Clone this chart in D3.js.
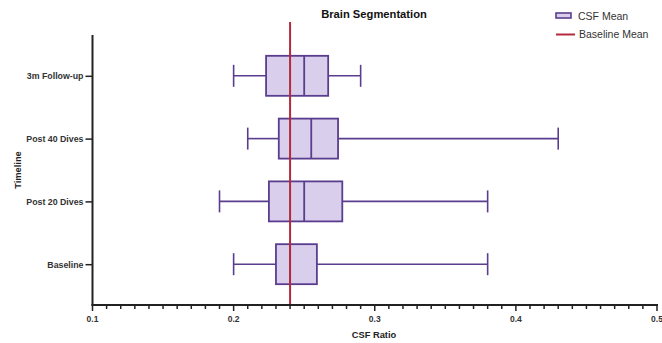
<!DOCTYPE html>
<html>
<head>
<meta charset="utf-8">
<script src="https://cdn.jsdelivr.net/npm/d3@7"></script>
<style>
  body { margin: 0; background: #fff; }
  text { font-family: "Liberation Sans", Arial, sans-serif; }
</style>
</head>
<body>
<svg id="chart"></svg>
<script>
// Chart size
const width = 662;
const height = 343;

// Data: one box per timepoint (min, q1, median, q3, max)
const categories = ["3m Follow-up", "Post 40 Dives", "Post 20 Dives", "Baseline"];
const mins    = [0.200, 0.210, 0.190, 0.200];
const q1s     = [0.223, 0.232, 0.225, 0.230];
const medians = [0.250, 0.255, 0.250, 0.240];
const q3s     = [0.267, 0.274, 0.277, 0.259];
const maxs    = [0.290, 0.430, 0.380, 0.380];
const baselineMean = 0.24;
const xTicks = [0.1, 0.2, 0.3, 0.4, 0.5];

const BOX_FILL = '#d9cfec';
const BOX_STROKE = '#5a3d8e';
const MEAN_COLOR = '#b42a3c';
const AXIS_COLOR = '#222';

const rows = categories.map((c, i) => ({
    name: c, min: mins[i], q1: q1s[i], med: medians[i], q3: q3s[i], max: maxs[i]
}));

const svg = d3.select('#chart')
    .attr('width', width)
    .attr('height', height);

const x = d3.scaleLinear().domain([0.1, 0.5]).range([92.5, 657]);
const y = d3.scalePoint().domain(categories).range([35, 305]).padding(0.65);

const boxH = 40;
const capH = 22;

// Boxes
const g = svg.append('g');
const box = g.selectAll('g.box')
    .data(rows)
    .join('g')
    .attr('class', 'box')
    .attr('transform', d => `translate(0,${y(d.name)})`);

box.append('line')
    .attr('x1', d => x(d.min)).attr('x2', d => x(d.q1))
    .attr('stroke', BOX_STROKE).attr('stroke-width', 1.6);
box.append('line')
    .attr('x1', d => x(d.q3)).attr('x2', d => x(d.max))
    .attr('stroke', BOX_STROKE).attr('stroke-width', 1.6);
box.append('line')
    .attr('x1', d => x(d.min)).attr('x2', d => x(d.min))
    .attr('y1', -capH / 2).attr('y2', capH / 2)
    .attr('stroke', BOX_STROKE).attr('stroke-width', 1.6);
box.append('line')
    .attr('x1', d => x(d.max)).attr('x2', d => x(d.max))
    .attr('y1', -capH / 2).attr('y2', capH / 2)
    .attr('stroke', BOX_STROKE).attr('stroke-width', 1.6);
box.append('rect')
    .attr('x', d => x(d.q1))
    .attr('width', d => x(d.q3) - x(d.q1))
    .attr('y', -boxH / 2).attr('height', boxH)
    .attr('fill', BOX_FILL)
    .attr('stroke', BOX_STROKE).attr('stroke-width', 1.8);
box.append('line')
    .attr('x1', d => x(d.med)).attr('x2', d => x(d.med))
    .attr('y1', -boxH / 2).attr('y2', boxH / 2)
    .attr('stroke', BOX_STROKE).attr('stroke-width', 1.8);

// Baseline mean line
svg.append('line')
    .attr('x1', x(baselineMean)).attr('x2', x(baselineMean))
    .attr('y1', 22).attr('y2', 305)
    .attr('stroke', MEAN_COLOR).attr('stroke-width', 2);

// X axis with minor ticks
const xAxisG = svg.append('g').attr('transform', 'translate(0,305)');
xAxisG.append('line')
    .attr('x1', x(0.1) - 1).attr('x2', x(0.5) + 1)
    .attr('stroke', AXIS_COLOR).attr('stroke-width', 2);
const minor = d3.range(0, 41).map(i => 0.1 + i * 0.01);
xAxisG.selectAll('line.minor')
    .data(minor)
    .join('line')
    .attr('class', 'minor')
    .attr('x1', d => x(d)).attr('x2', d => x(d))
    .attr('y1', 0).attr('y2', d => xTicks.some(t => Math.abs(t - d) < 1e-6) ? 6 : 4)
    .attr('stroke', AXIS_COLOR).attr('stroke-width', 1.5);
xAxisG.selectAll('text')
    .data(xTicks)
    .join('text')
    .attr('x', d => x(d)).attr('y', 17)
    .attr('text-anchor', 'middle')
    .attr('font-size', 8.5).attr('font-weight', 'bold').attr('fill', '#333')
    .text(d3.format('.1f'));

// Y axis
const yAxis = d3.axisLeft(y).tickSize(7).tickSizeOuter(0);
const yAxisG = svg.append('g').attr('transform', 'translate(92.5,0)').call(yAxis);
yAxisG.select('.domain').remove();
yAxisG.append('line')
    .attr('y1', 35).attr('y2', 306)
    .attr('stroke', AXIS_COLOR).attr('stroke-width', 2);
yAxisG.selectAll('.tick line').attr('stroke', AXIS_COLOR).attr('stroke-width', 1.5);
yAxisG.selectAll('.tick text')
    .attr('font-size', 8.8).attr('font-weight', 'bold').attr('fill', '#333')
    .attr('font-family', '"Liberation Sans", Arial, sans-serif')
    .attr('x', -9);

// Titles
svg.append('text')
    .attr('x', 374).attr('y', 17.5)
    .attr('text-anchor', 'middle')
    .attr('font-size', 11.2).attr('font-weight', 'bold').attr('fill', '#111')
    .text('Brain Segmentation');
svg.append('text')
    .attr('x', 374).attr('y', 338)
    .attr('text-anchor', 'middle')
    .attr('font-size', 9.3).attr('font-weight', 'bold').attr('fill', '#222')
    .text('CSF Ratio');
svg.append('text')
    .attr('transform', 'translate(21,170) rotate(-90)')
    .attr('text-anchor', 'middle')
    .attr('font-size', 9.3).attr('font-weight', 'bold').attr('fill', '#222')
    .text('Timeline');

// Legend
const legend = svg.append('g');
legend.append('rect')
    .attr('x', 556).attr('y', 13).attr('width', 15).attr('height', 5)
    .attr('fill', BOX_FILL).attr('stroke', BOX_STROKE).attr('stroke-width', 1.6);
legend.append('text')
    .attr('x', 578).attr('y', 19.5)
    .attr('font-size', 10.5).attr('fill', '#333')
    .text('CSF Mean');
legend.append('line')
    .attr('x1', 556).attr('x2', 575).attr('y1', 34.5).attr('y2', 34.5)
    .attr('stroke', MEAN_COLOR).attr('stroke-width', 2);
legend.append('text')
    .attr('x', 579).attr('y', 38)
    .attr('font-size', 10.5).attr('fill', '#333')
    .text('Baseline Mean');
</script>
</body>
</html>
